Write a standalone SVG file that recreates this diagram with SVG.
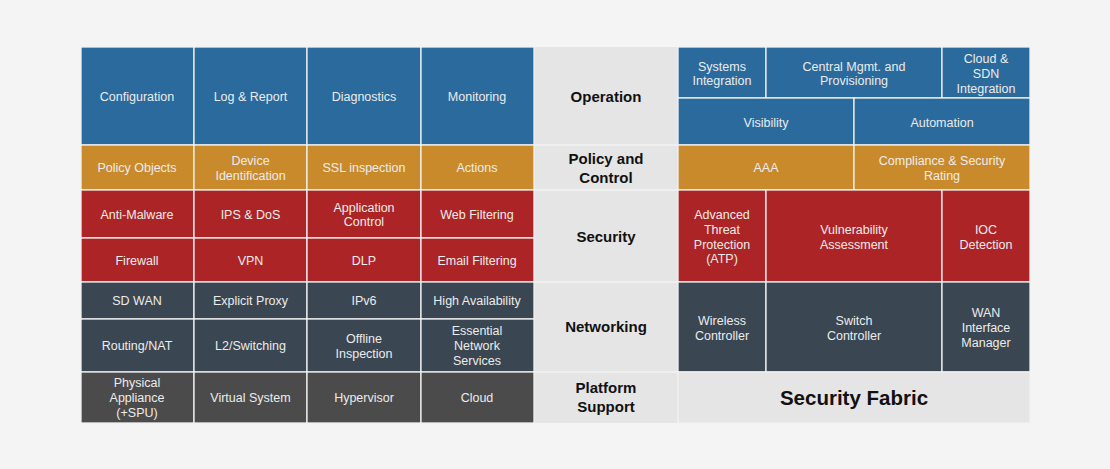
<svg xmlns="http://www.w3.org/2000/svg" width="1110" height="469" viewBox="0 0 1110 469">
<style>
.c{stroke:#f2f2f2;stroke-width:1.3}
.blue{fill:#2a6a9d}.org{fill:#c98a2c}.red{fill:#ac2426}.slate{fill:#3a4651}.gray{fill:#4b4b4b}.mid{fill:#e5e5e5}
.t{font-family:"Liberation Sans",Arial,sans-serif;font-size:12.5px;fill:#ececec;text-anchor:middle}
.h{font-family:"Liberation Sans",Arial,sans-serif;font-size:15px;font-weight:bold;fill:#111;text-anchor:middle}
.sf{font-family:"Liberation Sans",Arial,sans-serif;font-size:20.5px;font-weight:bold;fill:#111;text-anchor:middle}
.sep{stroke:#f2f2f2;stroke-width:1.3}
</style>
<rect width="1110" height="469" fill="#f4f4f4"/>
<g id="middle-column">
<rect x="534" y="47" width="144" height="376" class="mid"/>
<line x1="534" y1="145" x2="678" y2="145" class="sep"/>
<line x1="534" y1="190" x2="678" y2="190" class="sep"/>
<line x1="534" y1="282" x2="678" y2="282" class="sep"/>
<line x1="534" y1="372" x2="678" y2="372" class="sep"/>
</g>

<!-- Left: Operation -->
<g id="configuration"><rect x="81" y="47" width="113" height="98" class="c blue"/><text class="t" x="137" y="101">Configuration</text></g>
<g id="log-report"><rect x="194" y="47" width="113" height="98" class="c blue"/><text class="t" x="250.5" y="101">Log &amp; Report</text></g>
<g id="diagnostics"><rect x="307" y="47" width="114" height="98" class="c blue"/><text class="t" x="364" y="101">Diagnostics</text></g>
<g id="monitoring"><rect x="421" y="47" width="113" height="98" class="c blue"/><text class="t" x="477" y="101">Monitoring</text></g>

<!-- Left: Policy -->
<g id="policy-objects"><rect x="81" y="145" width="113" height="45" class="c org"/><text class="t" x="137" y="172">Policy Objects</text></g>
<g id="device-identification"><rect x="194" y="145" width="113" height="45" class="c org"/><text class="t" x="250.5" y="164.5">Device<tspan x="250.5" y="179.5">Identification</tspan></text></g>
<g id="ssl-inspection"><rect x="307" y="145" width="114" height="45" class="c org"/><text class="t" x="364" y="172">SSL inspection</text></g>
<g id="actions"><rect x="421" y="145" width="113" height="45" class="c org"/><text class="t" x="477" y="172">Actions</text></g>

<!-- Left: Security -->
<g id="anti-malware"><rect x="81" y="190" width="113" height="48" class="c red"/><text class="t" x="137" y="218.5">Anti-Malware</text></g>
<g id="ips-dos"><rect x="194" y="190" width="113" height="48" class="c red"/><text class="t" x="250.5" y="218.5">IPS &amp; DoS</text></g>
<g id="application-control"><rect x="307" y="190" width="114" height="48" class="c red"/><text class="t" x="364" y="211.5">Application<tspan x="364" y="225.5">Control</tspan></text></g>
<g id="web-filtering"><rect x="421" y="190" width="113" height="48" class="c red"/><text class="t" x="477" y="218.5">Web Filtering</text></g>
<g id="firewall"><rect x="81" y="238" width="113" height="44" class="c red"/><text class="t" x="137" y="264.5">Firewall</text></g>
<g id="vpn"><rect x="194" y="238" width="113" height="44" class="c red"/><text class="t" x="250.5" y="264.5">VPN</text></g>
<g id="dlp"><rect x="307" y="238" width="114" height="44" class="c red"/><text class="t" x="364" y="264.5">DLP</text></g>
<g id="email-filtering"><rect x="421" y="238" width="113" height="44" class="c red"/><text class="t" x="477" y="264.5">Email Filtering</text></g>

<!-- Left: Networking -->
<g id="sd-wan"><rect x="81" y="282" width="113" height="37" class="c slate"/><text class="t" x="137" y="305">SD WAN</text></g>
<g id="explicit-proxy"><rect x="194" y="282" width="113" height="37" class="c slate"/><text class="t" x="250.5" y="305">Explicit Proxy</text></g>
<g id="ipv6"><rect x="307" y="282" width="114" height="37" class="c slate"/><text class="t" x="364" y="305">IPv6</text></g>
<g id="high-availability"><rect x="421" y="282" width="113" height="37" class="c slate"/><text class="t" x="477" y="305">High Availability</text></g>
<g id="routing-nat"><rect x="81" y="319" width="113" height="53" class="c slate"/><text class="t" x="137" y="350">Routing/NAT</text></g>
<g id="l2-switching"><rect x="194" y="319" width="113" height="53" class="c slate"/><text class="t" x="250.5" y="350">L2/Switching</text></g>
<g id="offline-inspection"><rect x="307" y="319" width="114" height="53" class="c slate"/><text class="t" x="364" y="342.5">Offline<tspan x="364" y="357.5">Inspection</tspan></text></g>
<g id="essential-network-services"><rect x="421" y="319" width="113" height="53" class="c slate"/><text class="t" x="477" y="335">Essential<tspan x="477" y="350">Network</tspan><tspan x="477" y="365">Services</tspan></text></g>

<!-- Left: Platform -->
<g id="physical-appliance"><rect x="81" y="372" width="113" height="51" class="c gray"/><text class="t" x="137" y="387">Physical<tspan x="137" y="402">Appliance</tspan><tspan x="137" y="417">(+SPU)</tspan></text></g>
<g id="virtual-system"><rect x="194" y="372" width="113" height="51" class="c gray"/><text class="t" x="250.5" y="402">Virtual System</text></g>
<g id="hypervisor"><rect x="307" y="372" width="114" height="51" class="c gray"/><text class="t" x="364" y="402">Hypervisor</text></g>
<g id="cloud"><rect x="421" y="372" width="113" height="51" class="c gray"/><text class="t" x="477" y="402">Cloud</text></g>

<!-- Middle labels -->
<g id="label-operation"><text class="h" x="606" y="102">Operation</text></g>
<g id="label-policy"><text class="h" x="606" y="164">Policy and<tspan x="606" y="183">Control</tspan></text></g>
<g id="label-security"><text class="h" x="606" y="242">Security</text></g>
<g id="label-networking"><text class="h" x="606" y="332">Networking</text></g>
<g id="label-platform"><text class="h" x="606" y="393">Platform<tspan x="606" y="412">Support</tspan></text></g>

<!-- Right: Operation -->
<g id="systems-integration"><rect x="678" y="47" width="88" height="51" class="c blue"/><text class="t" x="722" y="70.5">Systems<tspan x="722" y="84.5">Integration</tspan></text></g>
<g id="central-mgmt"><rect x="766" y="47" width="176" height="51" class="c blue"/><text class="t" x="854" y="70.5">Central Mgmt. and<tspan x="854" y="84.5">Provisioning</tspan></text></g>
<g id="cloud-sdn"><rect x="942" y="47" width="88" height="51" class="c blue"/><text class="t" x="986" y="62.5">Cloud &amp;<tspan x="986" y="77.5">SDN</tspan><tspan x="986" y="92.5">Integration</tspan></text></g>
<g id="visibility"><rect x="678" y="98" width="176" height="47" class="c blue"/><text class="t" x="766" y="126.5">Visibility</text></g>
<g id="automation"><rect x="854" y="98" width="176" height="47" class="c blue"/><text class="t" x="942" y="126.5">Automation</text></g>

<!-- Right: Policy -->
<g id="aaa"><rect x="678" y="145" width="176" height="45" class="c org"/><text class="t" x="766" y="172">AAA</text></g>
<g id="compliance"><rect x="854" y="145" width="176" height="45" class="c org"/><text class="t" x="942" y="164.5">Compliance &amp; Security<tspan x="942" y="179.5">Rating</tspan></text></g>

<!-- Right: Security -->
<g id="atp"><rect x="678" y="190" width="88" height="92" class="c red"/><text class="t" x="722" y="218.5">Advanced<tspan x="722" y="233.5">Threat</tspan><tspan x="722" y="248.5">Protection</tspan><tspan x="722" y="263">(ATP)</tspan></text></g>
<g id="vulnerability-assessment"><rect x="766" y="190" width="176" height="92" class="c red"/><text class="t" x="854" y="233.5">Vulnerability<tspan x="854" y="248.5">Assessment</tspan></text></g>
<g id="ioc-detection"><rect x="942" y="190" width="88" height="92" class="c red"/><text class="t" x="986" y="233.5">IOC<tspan x="986" y="248.5">Detection</tspan></text></g>

<!-- Right: Networking -->
<g id="wireless-controller"><rect x="678" y="282" width="88" height="90" class="c slate"/><text class="t" x="722" y="324.5">Wireless<tspan x="722" y="339.5">Controller</tspan></text></g>
<g id="switch-controller"><rect x="766" y="282" width="176" height="90" class="c slate"/><text class="t" x="854" y="324.5">Switch<tspan x="854" y="339.5">Controller</tspan></text></g>
<g id="wan-interface-manager"><rect x="942" y="282" width="88" height="90" class="c slate"/><text class="t" x="986" y="316.5">WAN<tspan x="986" y="331.5">Interface</tspan><tspan x="986" y="346.5">Manager</tspan></text></g>

<!-- Right: Platform -->
<g id="security-fabric"><rect x="678" y="372" width="352" height="51" fill="#e5e5e5" stroke="#f2f2f2" stroke-width="1.3"/><text class="sf" x="854" y="405">Security Fabric</text></g>
</svg>
